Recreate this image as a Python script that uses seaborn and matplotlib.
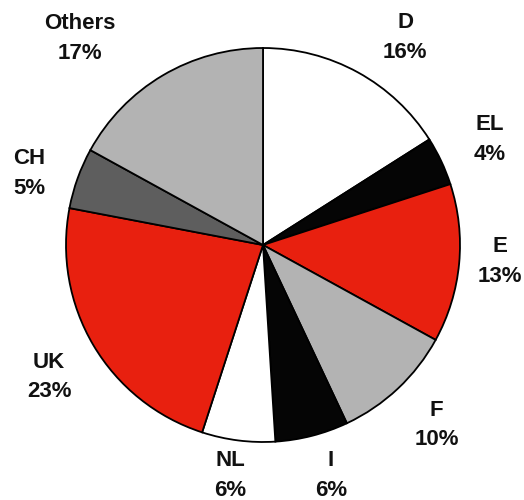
import numpy as np
import matplotlib.pyplot as plt
import seaborn as sns

# --- data (clockwise from 12 o'clock) ---
countries = ['D', 'EL', 'E', 'F', 'I', 'NL', 'UK', 'CH', 'Others']
shares = [16, 4, 13, 10, 6, 6, 23, 5, 17]
slice_colors = ['#ffffff', '#050505', '#e8200f', '#b3b3b3', '#050505',
                '#ffffff', '#e8200f', '#5e5e5e', '#b3b3b3']

# label placement: angle clockwise from top (deg) and distance in radii
label_angle = [34.4, 65, 94, 136, 163.6, 188, 238.3, 287, 318.4]
label_dist = [1.276, 1.27, 1.205, 1.27, 1.22, 1.18, 1.276, 1.24, 1.40]

sns.set_theme(style='white')
plt.rcParams['font.family'] = ['Liberation Sans', 'DejaVu Sans']

fig = plt.figure(figsize=(5.24, 5.0), dpi=100)
cx, cy, r = 263, 245, 197
ax = fig.add_axes([(cx - r) / 524, (500 - cy - r) / 500, 2 * r / 524, 2 * r / 500])

labels = [f'{c}\n{s}%' for c, s in zip(countries, shares)]
wedges, texts = ax.pie(shares, colors=slice_colors, startangle=90, counterclock=False,
                       labels=labels, labeldistance=1.25,
                       wedgeprops=dict(edgecolor='black', linewidth=1.3),
                       textprops=dict(fontsize=16, fontweight='bold', color='#111111',
                                      linespacing=1.55))

for t, a, d in zip(texts, label_angle, label_dist):
    th = np.deg2rad(90 - a)
    t.set_position((d * np.cos(th), d * np.sin(th)))
    t.set_ha('center')
    t.set_va('center')

ax.set_xlim(-1, 1)
ax.set_ylim(-1, 1)
ax.set_aspect('equal')
ax.axis('off')

fig.savefig('out.png', dpi=100)
